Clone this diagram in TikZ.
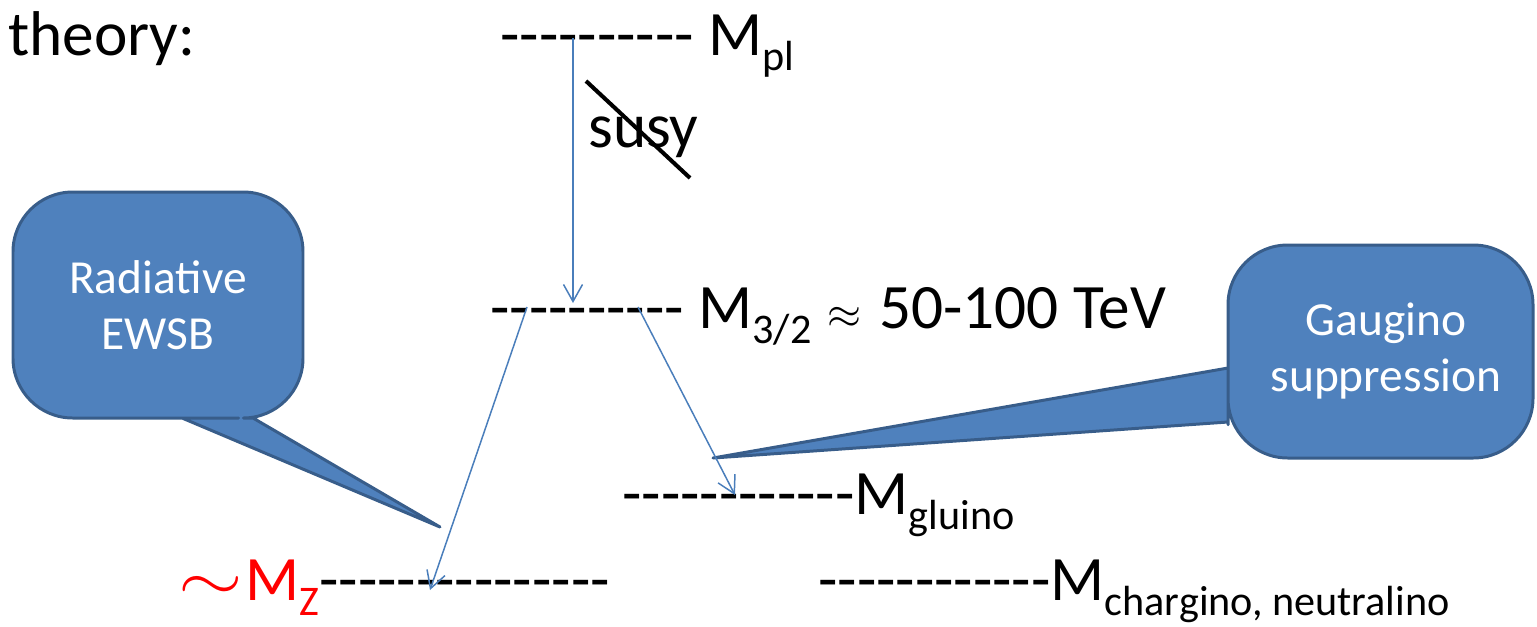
\documentclass[tikz,border=0pt]{standalone}
\usepackage{fontspec}
\setmainfont{Carlito}
\usepackage{tikz}
\usetikzlibrary{arrows.meta}
\definecolor{ArrowBlue}{HTML}{4A7EBB}
\definecolor{BubbleFill}{HTML}{4F81BD}
\definecolor{BubbleLine}{HTML}{385D8A}
\definecolor{ZRed}{HTML}{FF0000}
% a run of hyphens, kept apart so that -- does not turn into a dash
\newcommand\hyphens[1]{\foreach\k in {1,...,#1}{-\kern0pt}}
\newcommand\lowsub[1]{\raisebox{-9pt}{\fontsize{24}{24}\selectfont #1}}

\begin{document}
\begin{tikzpicture}[
  x=0.02cm, y=-0.02cm,
  every node/.style = {inner sep=0pt, font=\fontsize{36}{43}\selectfont},
  level/.style      = {anchor=base west},
  arr/.style        = {-{Straight Barb[length=0.34cm, width=0.38cm]}, ArrowBlue, line width=0.85pt},
  bubble/.style     = {fill=BubbleFill, draw=BubbleLine, line width=1.7pt, line join=round},
  bubbletext/.style = {text=white, align=center, font=\fontsize{27}{32}\selectfont},
]
\useasboundingbox (0,0) rectangle (1537,626);

% Callouts
\draw[bubble] (158,192) [rounded corners=34] -- (13,192) -- (13,418) -- (179,418)
  [sharp corners] -- (182,418) -- (440,527) -- (253,418) -- (256,418)
  [rounded corners=34] -- (303,418) -- (303,192) -- cycle;
\node[bubbletext] (rad) at (158,305) {Radiative\\EWSB};

\draw[bubble] (1380,245) [rounded corners=34] -- (1228,245) -- (1228,365)
  [sharp corners] -- (1228,368) -- (713,458) -- (1228,422) -- (1228,424)
  [rounded corners=34] -- (1228,458) -- (1533,458) -- (1533,245) -- cycle;
\node[bubbletext] (gau) at (1386,351) {Gaugino\\suppression};

% Labels
\node[level] (theory) at (8,55) {theory:};
\node[level] (mpl) at (500,55) {\hyphens{10} M\lowsub{pl}};
\node[level] (susy) at (588,147) {susy};
\node[level] (mgrav) at (490,328) {\hyphens{10} M\lowsub{3/2}\kern1pt{} $\approx$ \kern2pt50-100 TeV};
\node[level] (mglu) at (622,514) {\hyphens{12}M\lowsub{gluino}};
\node[level] (mz) at (178,600) {\textcolor{ZRed}{\scalebox{1.9}[1.5]{$\sim$}\kern1.5pt M\lowsub{Z}}\hyphens{15}};
\node[level] (mchi) at (818,600) {\hyphens{12}M\lowsub{chargino, neutralino}};

% Strike through susy
\draw[line width=2.3pt] (586,81) -- (690,178);

% Arrow ends
\coordinate (pl-out) at (573,38);
\coordinate (grav-in) at (573,303);
\coordinate (grav-outL) at (527,307);
\coordinate (grav-outR) at (638,307);
\coordinate (z-in) at (430,590);
\coordinate (glu-in) at (735,495);

% Arrows
\draw[arr] (pl-out) -- (grav-in);
\draw[arr] (grav-outL) -- (z-in);
\draw[arr] (grav-outR) -- (glu-in);

\end{tikzpicture}
\end{document}
